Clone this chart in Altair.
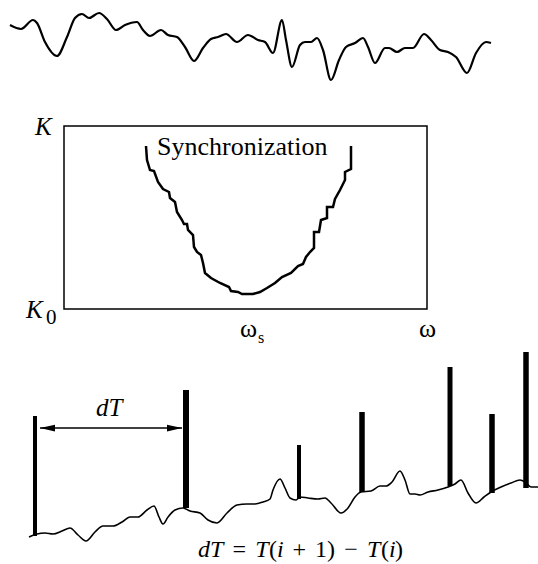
import altair as alt
import pandas as pd

# ---------------- data (schematic canvas units) ----------------
TOP_X = [10, 21, 33, 37, 45, 57, 67, 75, 82, 89, 99, 107, 116, 125, 137, 143, 150, 161, 168, 177,
         185, 194, 203, 211, 218, 226, 237, 248, 258, 265, 273, 282, 286, 292, 300, 305, 311, 317,
         323, 331, 339, 346, 355, 363, 368, 375, 385, 389, 397, 405, 413, 424, 431, 440, 448, 456,
         467, 476, 486, 491]
TOP_Y = [25, 29, 20, 23, 42, 56, 37, 18, 14, 18, 13, 19, 30, 25, 22, 30, 36, 30, 35, 37,
         47, 61, 48, 39, 37, 34, 42, 35, 40, 42, 53, 20, 40, 67, 45, 42, 42, 38,
         50, 80, 60, 47, 43, 38, 47, 63, 48, 48, 52, 48, 48, 34, 40, 50, 52, 57,
         73, 53, 42, 43]

MID_X = [146, 147, 150, 154, 158, 163, 169, 170, 175, 177, 182, 184, 187, 188, 193, 194, 197, 201,
         203, 205, 211, 220, 229, 231, 238, 242, 253, 260, 267, 275, 282, 291, 298, 303, 306, 310,
         314, 314, 319, 321, 327, 327, 333, 335, 340, 345, 345, 351, 351]
MID_Y = [146, 160, 170, 171, 182, 189, 192, 198, 202, 212, 220, 224, 224, 230, 235, 247, 252, 255,
         263, 273, 278, 283, 287, 291, 292, 294, 294, 292, 288, 283, 277, 273, 266, 264, 257, 252,
         248, 232, 232, 220, 218, 207, 207, 199, 190, 180, 172, 169, 146]

BOT_X = [29, 37, 45, 53, 62, 70, 78, 86, 95, 103, 113, 122, 130, 138, 147, 154, 159, 163, 168, 175,
         183, 190, 200, 208, 217, 227, 237, 247, 255, 263, 270, 273, 280, 285, 290, 296, 300, 308,
         318, 325, 331, 341, 348, 355, 361, 371, 380, 386, 392, 400, 405, 410, 415, 420, 428, 438,
         448, 455, 461, 468, 476, 484, 491, 501, 511, 520, 525, 531, 538]
BOT_Y = [537, 534, 533, 534, 531, 528, 535, 541, 532, 526, 526, 522, 517, 517, 510, 506, 517, 524,
         517, 510, 508, 511, 513, 520, 523, 513, 505, 504, 504, 502, 499, 490, 479, 488, 498, 500,
         497, 498, 499, 498, 503, 513, 508, 497, 492, 491, 486, 486, 482, 471, 480, 494, 494, 495,
         492, 490, 487, 484, 480, 493, 503, 497, 492, 487, 483, 480, 482, 487, 487]

BAR_X = [35, 186, 299, 362, 450, 492, 526]
BAR_TOP = [416, 390, 445, 412, 367, 414, 352]
BAR_BOTTOM = [536, 508, 499, 492, 486, 493, 488]
BAR_W = [4, 6, 4, 5.5, 5, 5.5, 5.5]

BOX = {"x": [64], "x2": [427], "y": [126], "y2": [309]}

ARROW = {"x": [40], "x2": [182], "y": [428]}
HEAD_X = [40, 182]
HEAD_Y = [428, 428]
HEAD_SHAPE = ["M0,0 L2,-0.45 L2,0.45 Z", "M0,0 L-2,-0.45 L-2,0.45 Z"]

# text pieces: (text, left x, baseline y, size, italic)
LABEL_TEXT = ["K", "K", "0", "Synchronization", "ω", "s", "ω", "dT",
              "dT", "=", "T", "(", "i", "+", "1)", "−", "T", "(", "i", ")"]
LABEL_X = [35, 26, 46, 157, 240, 258, 419, 96,
           198, 232.5, 255.2, 269, 277, 292.4, 315.1, 344.3, 367, 381, 389, 395]
LABEL_Y = [135, 318, 324, 155, 337, 343, 337, 416,
           557, 557, 557, 557, 557, 557, 557, 557, 557, 557, 557, 557]
LABEL_SIZE = [25, 25, 21, 26, 26, 16, 26, 25,
              24, 24, 24, 24, 24, 24, 24, 24, 24, 24, 24, 24]
LABEL_ITALIC = [True, True, False, False, False, False, False, True,
                True, False, True, False, True, False, False, False, True, False, True, False]

SERIF = "Liberation Serif"

# ---------------- chart ----------------
xs = alt.Scale(domain=[0, 538], nice=False, zero=False)
ys = alt.Scale(domain=[0, 564], nice=False, zero=False, reverse=True)
X = alt.X("x:Q", scale=xs, axis=None)
Y = alt.Y("y:Q", scale=ys, axis=None)


def line_df(xv, yv):
    return pd.DataFrame({"x": xv, "y": yv, "i": list(range(len(xv)))})


top = alt.Chart(line_df(TOP_X, TOP_Y)).mark_line(
    color="black", strokeWidth=2.2, interpolate="monotone"
).encode(x=X, y=Y, order="i:Q")

mid = alt.Chart(line_df(MID_X, MID_Y)).mark_line(
    color="black", strokeWidth=2.5, interpolate="linear", strokeJoin="miter"
).encode(x=X, y=Y, order="i:Q")

bot = alt.Chart(line_df(BOT_X, BOT_Y)).mark_line(
    color="black", strokeWidth=1.6, interpolate="monotone"
).encode(x=X, y=Y, order="i:Q")

box = alt.Chart(pd.DataFrame(BOX)).mark_rect(
    filled=False, stroke="black", strokeWidth=1.5
).encode(x=X, x2="x2:Q", y=Y, y2="y2:Q")

bars = alt.Chart(pd.DataFrame({"x": BAR_X, "y": BAR_TOP, "y2": BAR_BOTTOM, "w": BAR_W})).mark_rule(
    color="black", strokeCap="butt"
).encode(x=X, y=Y, y2="y2:Q", strokeWidth=alt.StrokeWidth("w:Q", scale=None))

arrow = alt.Chart(pd.DataFrame(ARROW)).mark_rule(color="black", strokeWidth=1.3).encode(
    x=X, x2="x2:Q", y=Y
)

heads = alt.Chart(pd.DataFrame({"x": HEAD_X, "y": HEAD_Y, "p": HEAD_SHAPE})).mark_point(
    filled=True, color="black", opacity=1, strokeWidth=0
).encode(x=X, y=Y, shape=alt.Shape("p:N", scale=None), size=alt.value(225))

layers = [top, mid, bot, box, bars, arrow, heads]
for t, lx, ly, fs, it in zip(LABEL_TEXT, LABEL_X, LABEL_Y, LABEL_SIZE, LABEL_ITALIC):
    layers.append(
        alt.Chart(pd.DataFrame({"x": [lx], "y": [ly], "t": [t]})).mark_text(
            font=SERIF, fontSize=fs, fontStyle="italic" if it else "normal",
            align="left", baseline="alphabetic", color="black"
        ).encode(x=X, y=Y, text="t:N")
    )

chart = alt.layer(*layers).properties(
    width=538, height=564, padding=0, autosize=alt.AutoSizeParams(type="none"),
    background="white"
).configure_view(stroke=None)

chart.save("out.html", embed_options={"renderer": "svg", "actions": False})
